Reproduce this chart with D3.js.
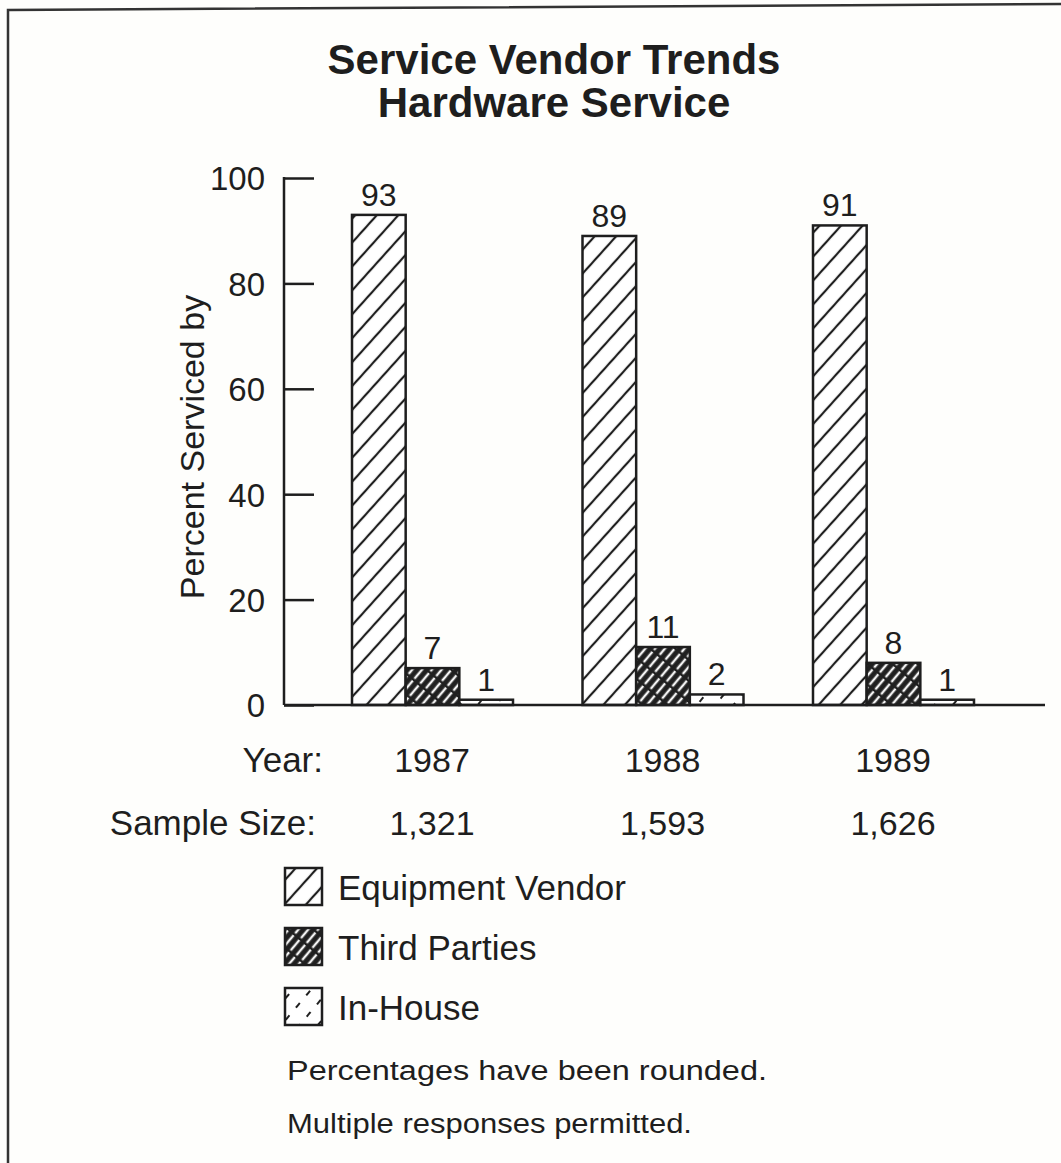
<!DOCTYPE html>
<html><head><meta charset="utf-8">
<script src="https://cdn.jsdelivr.net/npm/d3@7"></script>
<style>
html,body{margin:0;padding:0;background:#fefefc;}
svg{display:block;font-family:"Liberation Sans",Arial,Helvetica,sans-serif;}
</style></head>
<body>
<script>
const years = ["1987", "1988", "1989"];
const sampleSizes = ["1,321", "1,593", "1,626"];
const seriesNames = ["Equipment Vendor", "Third Parties", "In-House"];
const equipmentVendor = [93, 89, 91];
const thirdParties = [7, 11, 8];
const inHouse = [1, 2, 1];
const yTicks = [0, 20, 40, 60, 80, 100];
const titleLines = ["Service Vendor Trends", "Hardware Service"];
const footnotes = ["Percentages have been rounded.", "Multiple responses permitted."];

const seriesValues = [equipmentVendor, thirdParties, inHouse];
const W = 1061, H = 1163;
const ink = "#1e1e1e";
const svg = d3.select("body").append("svg").attr("width", W).attr("height", H);
svg.append("rect").attr("width", W).attr("height", H).attr("fill", "#fefefc");

// patterns
const defs = svg.append("defs");
const p1 = defs.append("pattern").attr("id", "pEV").attr("patternUnits", "userSpaceOnUse")
  .attr("width", 16).attr("height", 16).attr("patternTransform", "rotate(42)");
p1.append("rect").attr("width", 16).attr("height", 16).attr("fill", "#fff");
p1.append("line").attr("x1", 8).attr("x2", 8).attr("y1", 0).attr("y2", 16)
  .attr("stroke", ink).attr("stroke-width", 2.2);
const p2 = defs.append("pattern").attr("id", "pTP").attr("patternUnits", "userSpaceOnUse")
  .attr("width", 7.5).attr("height", 16).attr("patternTransform", "rotate(40)");
p2.append("rect").attr("width", 7.5).attr("height", 16).attr("fill", "#202020");
p2.append("line").attr("x1", 3.75).attr("x2", 3.75).attr("y1", 0).attr("y2", 13.5)
  .attr("stroke", "#f4f4f4").attr("stroke-width", 2.4);
const p3 = defs.append("pattern").attr("id", "pIH").attr("patternUnits", "userSpaceOnUse")
  .attr("width", 14).attr("height", 16).attr("patternTransform", "rotate(40)");
p3.append("rect").attr("width", 14).attr("height", 16).attr("fill", "#fff");
p3.append("line").attr("x1", 7).attr("x2", 7).attr("y1", 2).attr("y2", 8)
  .attr("stroke", ink).attr("stroke-width", 2);
const fills = ["url(#pEV)", "url(#pTP)", "url(#pIH)"];

// border
svg.append("path").attr("d", "M8,1163 L8,10 L1061,4").attr("fill", "none")
  .attr("stroke", "#333").attr("stroke-width", 2.5);

// title
svg.append("g").selectAll("text").data(titleLines).join("text")
  .attr("x", 554).attr("y", (d, i) => 74 + i * 43)
  .attr("text-anchor", "middle").attr("font-weight", "bold").attr("font-size", 42)
  .attr("fill", ink).text(d => d);

// scales
const y = d3.scaleLinear().domain([0, 100]).range([705, 178]);
const x = d3.scalePoint().domain(years).range([432, 893]);
const xs = d3.scaleBand().domain(seriesNames).range([-80, 81]).padding(0);

// y axis
const yAxis = svg.append("g").attr("transform", "translate(284,0)")
  .call(d3.axisLeft(y).tickValues(yTicks).tickSizeInner(-30).tickSizeOuter(0).tickPadding(19));
yAxis.selectAll("path,line").attr("stroke", ink).attr("stroke-width", 2.5);
yAxis.selectAll("text").attr("font-size", 33).attr("fill", ink)
  .attr("font-family", "Liberation Sans, Arial, sans-serif").attr("dy", "0.36em");
yAxis.select(".domain").remove();
svg.append("line").attr("x1", 284).attr("x2", 284).attr("y1", y(100) - 1).attr("y2", y(0))
  .attr("stroke", ink).attr("stroke-width", 2.5);

// y label
svg.append("text").attr("transform", "translate(204,447) rotate(-90)")
  .attr("text-anchor", "middle").attr("font-size", 34).attr("fill", ink)
  .text("Percent Serviced by");

// bars
const rows = [];
years.forEach((yr, i) => seriesNames.forEach((s, j) => rows.push({ yr, s, j, v: seriesValues[j][i] })));
const bars = svg.append("g");
bars.selectAll("rect").data(rows).join("rect")
  .attr("x", d => x(d.yr) + xs(d.s)).attr("width", xs.bandwidth())
  .attr("y", d => y(d.v)).attr("height", d => y(0) - y(d.v))
  .attr("fill", d => fills[d.j]).attr("stroke", ink).attr("stroke-width", 2.5);
bars.selectAll("text").data(rows).join("text")
  .attr("x", d => x(d.yr) + xs(d.s) + xs.bandwidth() / 2)
  .attr("y", d => y(d.v) - 9)
  .attr("text-anchor", "middle").attr("font-size", 32).attr("fill", ink)
  .text(d => d.v);

// baseline
svg.append("line").attr("x1", 284).attr("x2", 1045).attr("y1", y(0)).attr("y2", y(0))
  .attr("stroke", ink).attr("stroke-width", 2.5);

// year & sample size rows
svg.append("text").attr("x", 323).attr("y", 772).attr("text-anchor", "end")
  .attr("font-size", 35).attr("fill", ink).text("Year:");
svg.append("text").attr("x", 316).attr("y", 835).attr("text-anchor", "end")
  .attr("font-size", 35).attr("fill", ink).text("Sample Size:");
svg.append("g").selectAll("text").data(years).join("text")
  .attr("x", d => x(d)).attr("y", 772).attr("text-anchor", "middle")
  .attr("font-size", 34).attr("fill", ink).text(d => d);
svg.append("g").selectAll("text").data(sampleSizes).join("text")
  .attr("x", (d, i) => x(years[i])).attr("y", 835).attr("text-anchor", "middle")
  .attr("font-size", 34).attr("fill", ink).text(d => d);

// legend
const lg = svg.append("g").selectAll("g").data(seriesNames).join("g")
  .attr("transform", (d, i) => `translate(285,${868 + i * 60})`);
lg.append("rect").attr("width", 37).attr("height", 37)
  .attr("fill", (d, i) => fills[i]).attr("stroke", ink).attr("stroke-width", 2.5);
lg.append("text").attr("x", 53).attr("y", 32).attr("font-size", 35).attr("fill", ink).text(d => d);

// footnotes
const fnLen = [480, 405];
svg.append("g").selectAll("text").data(footnotes).join("text")
  .attr("x", 287).attr("y", (d, i) => 1080 + i * 53)
  .attr("font-size", 27).attr("fill", ink)
  .attr("textLength", (d, i) => fnLen[i]).attr("lengthAdjust", "spacingAndGlyphs")
  .text(d => d);
</script>
</body></html>
